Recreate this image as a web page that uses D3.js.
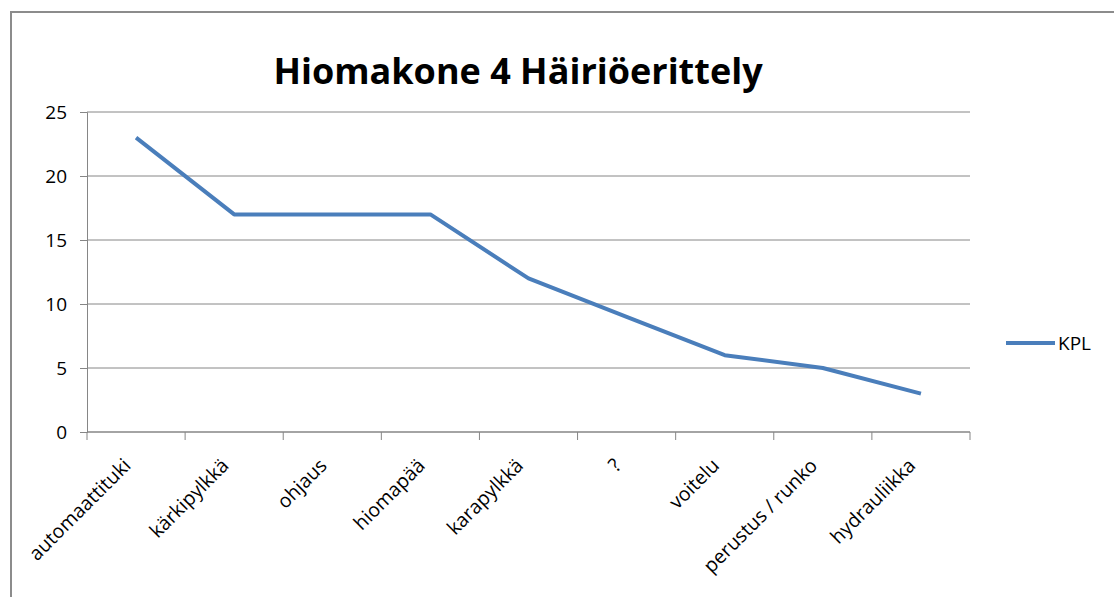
<!DOCTYPE html>
<html>
<head>
<meta charset="utf-8">
<script src="https://cdn.jsdelivr.net/npm/d3@7"></script>
<style>
  body { margin: 0; background: #fff; }
  text { font-family: "Open Sans", "Liberation Sans", sans-serif; }
</style>
</head>
<body>
<svg width="1114" height="597"></svg>
<script>
// chart data
var categories = ["automaattituki", "kärkipylkkä", "ohjaus", "hiomapää", "karapylkkä", "?", "voitelu", "perustus / runko", "hydrauliikka"];
var kplValues = [23, 17, 17, 17, 12, 9, 6, 5, 3];
var yTicks = [0, 5, 10, 15, 20, 25];
var seriesName = "KPL";
var title = "Hiomakone 4 Häiriöerittely";

var svg = d3.select("svg"),
    width = +svg.attr("width"),
    height = +svg.attr("height");

var lineColor = "#4a7ebb",
    gridColor = "#868686";

// outer frame (runs off the right and bottom edges)
svg.append("path")
    .attr("d", "M11,600 L11,12 L1120,12")
    .attr("fill", "none")
    .attr("stroke", "#8c8c8c")
    .attr("stroke-width", 2);

var plotLeft = 87, plotRight = 970, plotTop = 112, plotBottom = 432;

var x = d3.scaleBand()
    .domain(categories)
    .range([plotLeft, plotRight]);

var y = d3.scaleLinear()
    .domain([0, 25])
    .range([plotBottom, plotTop]);

// title
svg.append("text")
    .attr("x", 518)
    .attr("y", 84)
    .attr("text-anchor", "middle")
    .style("font-size", "36px")
    .style("font-weight", "bold")
    .attr("fill", "#000")
    .text(title);

// gridlines
svg.append("g")
    .selectAll("line")
    .data(yTicks.filter(function(d) { return d > 0; }))
    .enter().append("line")
    .attr("x1", plotLeft)
    .attr("x2", plotRight)
    .attr("y1", function(d) { return y(d); })
    .attr("y2", function(d) { return y(d); })
    .attr("stroke", gridColor)
    .attr("stroke-width", 1);

// y axis
var yAxis = svg.append("g")
    .attr("transform", "translate(" + plotLeft + ",0)")
    .call(d3.axisLeft(y).tickValues(yTicks).tickSize(7).tickPadding(13));
yAxis.select(".domain").attr("stroke", gridColor);
yAxis.selectAll(".tick line").attr("stroke", gridColor);
yAxis.selectAll(".tick text")
    .style("font-size", "19px")
    .attr("fill", "#000");

// x axis with ticks at category boundaries
var xAxis = svg.append("g")
    .attr("transform", "translate(0," + plotBottom + ")");
xAxis.append("line")
    .attr("x1", plotLeft).attr("x2", plotRight)
    .attr("stroke", gridColor)
    .attr("stroke-width", 1.5);
xAxis.selectAll(".bnd")
    .data(categories.concat([null]))
    .enter().append("line")
    .attr("class", "bnd")
    .attr("x1", function(d, i) { return plotLeft + i * x.step(); })
    .attr("x2", function(d, i) { return plotLeft + i * x.step(); })
    .attr("y1", 0)
    .attr("y2", 8)
    .attr("stroke", gridColor);
xAxis.selectAll(".lbl")
    .data(categories)
    .enter().append("text")
    .attr("class", "lbl")
    .attr("transform", function(d) {
        return "translate(" + (x(d) + x.bandwidth() / 2 - 9) + ",30) rotate(-45)";
    })
    .attr("text-anchor", "end")
    .attr("dy", "0.35em")
    .style("font-size", "19.5px")
    .attr("fill", "#000")
    .text(function(d) { return d; });

// series line
var line = d3.line()
    .x(function(d, i) { return x(categories[i]) + x.bandwidth() / 2; })
    .y(function(d) { return y(d); });

svg.append("path")
    .datum(kplValues)
    .attr("d", line)
    .attr("fill", "none")
    .attr("stroke", lineColor)
    .attr("stroke-width", 4)
    .attr("stroke-linejoin", "round");

// legend
var legend = svg.append("g").attr("transform", "translate(1006,343)");
legend.append("line")
    .attr("x1", 0).attr("x2", 49)
    .attr("stroke", lineColor)
    .attr("stroke-width", 4);
legend.append("text")
    .attr("x", 52)
    .attr("dy", "0.35em")
    .style("font-size", "19px")
    .attr("fill", "#000")
    .text(seriesName);
</script>
</body>
</html>
